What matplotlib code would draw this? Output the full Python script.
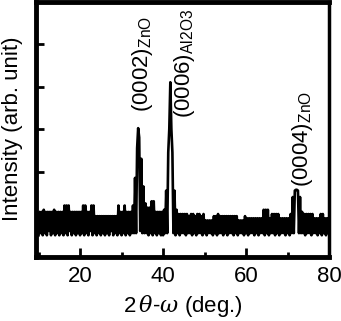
import numpy as np
import matplotlib
matplotlib.use('Agg')
import matplotlib.pyplot as plt
from matplotlib.ticker import MultipleLocator

plt.rcParams['font.family'] = ['Liberation Sans', 'DejaVu Sans']
plt.rcParams['mathtext.fontset'] = 'custom'
plt.rcParams['mathtext.rm'] = 'Liberation Sans'
plt.rcParams['mathtext.it'] = 'DejaVu Serif:italic'

# XRD scan, 0.25 deg steps from 10 to 80 deg
two_theta = np.arange(10, 80.001, 0.25)
intensity = np.array([
    0.50, 1.05, 0.55, 1.05, 0.50, 1.10, 0.55, 1.05, 0.50, 1.05, 0.60, 1.05, 0.50, 1.05, 0.55, 1.10, 0.50, 1.05, 0.55, 1.05,
    0.50, 1.05, 0.55, 1.05, 0.50, 1.20, 0.55, 1.20, 0.50, 1.20, 0.60, 1.05, 0.50, 1.05, 0.55, 1.05, 0.50, 1.05, 0.55, 1.05,
    0.50, 1.05, 0.55, 1.20, 0.50, 1.20, 0.55, 1.05, 0.50, 1.05, 0.60, 1.20, 0.50, 1.20, 0.55, 0.95, 0.50, 0.95, 0.55, 0.95,
    0.50, 0.95, 0.55, 0.95, 0.50, 0.95, 0.55, 0.95, 0.50, 0.95, 0.60, 0.95, 0.50, 0.95, 0.55, 0.95, 0.50, 1.20, 0.55, 1.05,
    0.50, 1.05, 0.55, 1.20, 0.50, 1.05, 0.55, 1.05, 0.50, 1.05, 0.55, 1.20, 0.55, 1.85, 0.55, 2.55, 3.02, 2.80, 0.60, 2.30,
    0.55, 1.65, 0.55, 1.25, 0.55, 1.15, 0.50, 1.15, 0.55, 1.30, 0.50, 1.30, 0.55, 1.05, 0.50, 1.05, 0.55, 1.05, 0.50, 1.05,
    0.50, 1.10, 0.55, 1.55, 0.55, 2.45, 3.00, 4.10, 3.00, 2.45, 0.55, 1.55, 0.50, 1.10, 0.55, 1.00, 0.50, 1.00, 0.55, 1.00,
    0.55, 1.00, 0.50, 1.00, 0.55, 0.95, 0.55, 1.00, 0.50, 1.00, 0.55, 0.95, 0.50, 1.00, 0.55, 1.00, 0.55, 0.95, 0.50, 1.00,
    0.55, 0.85, 0.50, 0.85, 0.55, 0.85, 0.55, 0.85, 0.50, 0.95, 0.55, 0.95, 0.50, 1.00, 0.55, 0.95, 0.55, 0.95, 0.50, 0.95,
    0.55, 0.95, 0.50, 0.95, 0.55, 0.95, 0.55, 0.95, 0.50, 0.95, 0.55, 0.95, 0.50, 0.85, 0.55, 0.85, 0.55, 0.85, 0.50, 0.95,
    0.55, 0.90, 0.50, 0.90, 0.55, 0.90, 0.55, 0.90, 0.50, 0.90, 0.55, 0.90, 0.50, 0.90, 0.55, 0.90, 0.55, 1.10, 0.50, 1.10,
    0.55, 1.10, 0.50, 0.90, 0.55, 1.00, 0.55, 1.00, 0.50, 1.00, 0.55, 1.00, 0.50, 0.90, 0.55, 0.90, 0.55, 0.90, 0.50, 0.90,
    0.55, 0.90, 0.50, 1.00, 0.55, 1.40, 0.55, 1.55, 1.57, 1.57, 1.55, 0.55, 1.40, 0.55, 1.05, 0.55, 1.00, 0.50, 1.00, 0.55,
    1.00, 0.55, 1.00, 0.50, 1.00, 0.55, 0.90, 0.55, 0.90, 0.50, 0.90, 0.55, 1.00, 0.50, 1.00, 0.55, 0.90, 0.50, 0.90, 0.55,
    0.90,
])

# peak labels: text, 2theta of label baseline, intensity where text starts
peak_labels = [r'(0002)$_{\rm ZnO}$', r'(0006)$_{\rm Al2O3}$', r'(0004)$_{\rm ZnO}$']
label_x = [36.4, 46.5, 75.0]
label_y = [3.4, 3.26, 1.64]

fig = plt.figure(figsize=(3.41, 3.21), dpi=100)
ax = fig.add_axes([0.107, 0.2009, 0.858, 0.7944])

ax.plot(two_theta, intensity, color='black', lw=1.9)

for txt, x, y in zip(peak_labels, label_x, label_y):
    ax.text(x, y, txt, rotation=90, rotation_mode='anchor', ha='left', va='baseline', fontsize=16)

ax.set_xlim(9.5, 80)
ax.set_ylim(0, 6)
ax.xaxis.set_major_locator(MultipleLocator(20))
ax.xaxis.set_minor_locator(MultipleLocator(10))
ax.yaxis.set_major_locator(MultipleLocator(1))
ax.set_yticklabels([])
ax.tick_params(axis='x', which='major', direction='in', length=6.5, width=2, labelsize=16, pad=7)
ax.tick_params(axis='x', which='minor', direction='in', length=3.5, width=2)
ax.tick_params(axis='y', which='major', direction='in', length=6, width=2, left=True)

for side in ['left', 'bottom', 'top']:
    ax.spines[side].set_linewidth(3.5)
ax.spines['right'].set_linewidth(2.5)

ax.set_xlabel(r'2$\,\theta$-$\omega$ (deg.)', fontsize=16, labelpad=4)
ax.set_ylabel('Intensity (arb. unit)', fontsize=16, labelpad=6)

fig.savefig('out.png', dpi=100)
